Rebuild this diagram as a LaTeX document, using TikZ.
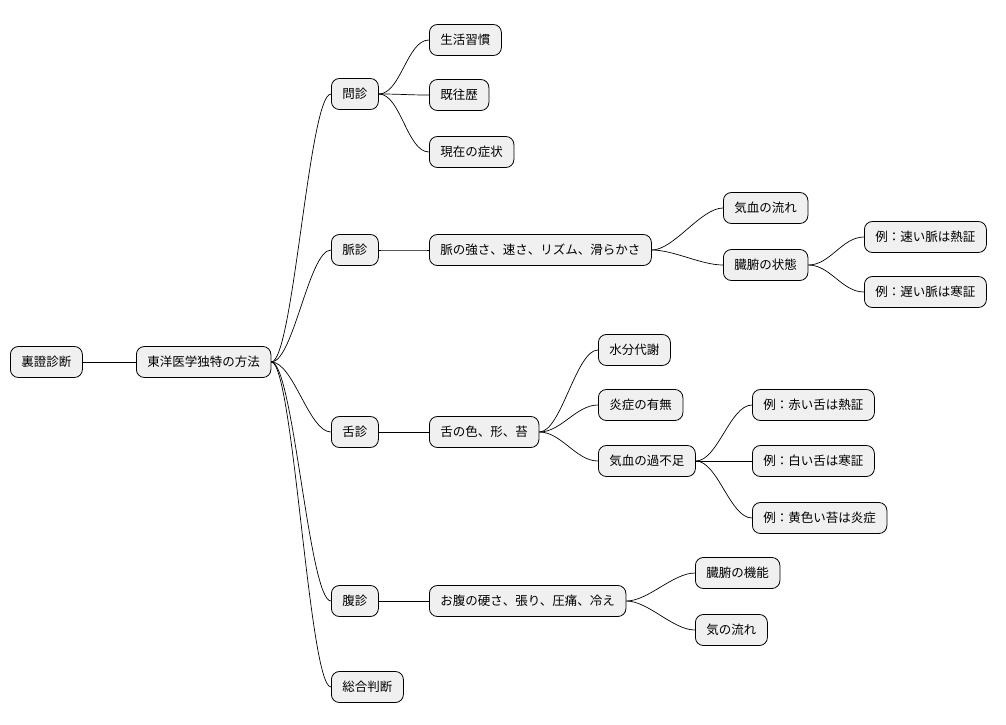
\documentclass[tikz,border=0pt]{standalone}
\usepackage{fontspec}
\newfontfamily\cjk{Noto Sans CJK JP}
\begin{document}
\begin{tikzpicture}[x=1pt,y=-1pt,
  box/.style={draw=black,line width=0.8pt,fill=black!6,rounded corners=8pt,anchor=west,minimum height=31pt,inner xsep=11pt,font=\cjk\fontsize{12.5}{14}\selectfont},
  ln/.style={line width=0.7pt}]
\useasboundingbox (0,0) rectangle (1006,724);
\node[box] (r) at (10,362) {裏證診断};
\node[box] (t) at (136,362) {東洋医学独特の方法};
\node[box] (m) at (331,94) {問診};
\node[box] (m1) at (429,40) {生活習慣};
\node[box] (m2) at (429,95) {既往歴};
\node[box] (m3) at (429,152) {現在の症状};
\node[box] (p) at (331,250) {脈診};
\node[box] (p1) at (429,250) {脈の強さ、速さ、リズム、滑らかさ};
\node[box] (p2) at (723,208) {気血の流れ};
\node[box] (p3) at (723,265) {臓腑の状態};
\node[box] (p4) at (864,237) {例：速い脈は熱証};
\node[box] (p5) at (864,292) {例：遅い脈は寒証};
\node[box] (s) at (331,432) {舌診};
\node[box] (s1) at (429,432) {舌の色、形、苔};
\node[box] (s2) at (598,350) {水分代謝};
\node[box] (s3) at (598,405) {炎症の有無};
\node[box] (s4) at (598,461) {気血の過不足};
\node[box] (s5) at (752,405) {例：赤い舌は熱証};
\node[box] (s6) at (752,461) {例：白い舌は寒証};
\node[box] (s7) at (752,518) {例：黄色い苔は炎症};
\node[box] (f) at (331,601) {腹診};
\node[box] (f1) at (429,601) {お腹の硬さ、張り、圧痛、冷え};
\node[box] (f2) at (695,573) {臓腑の機能};
\node[box] (f3) at (695,630) {気の流れ};
\node[box] (g) at (331,687) {総合判断};
\foreach \a/\b in {r/t,t/m,t/p,t/s,t/f,t/g,m/m1,m/m2,m/m3,p/p1,p1/p2,p1/p3,p3/p4,p3/p5,s/s1,s1/s2,s1/s3,s1/s4,s4/s5,s4/s6,s4/s7,f/f1,f1/f2,f1/f3}
  \draw[ln] (\a.east) .. controls ([xshift=22pt]\a.east) and ([xshift=-22pt]\b.west) .. (\b.west);
\end{tikzpicture}
\end{document}
